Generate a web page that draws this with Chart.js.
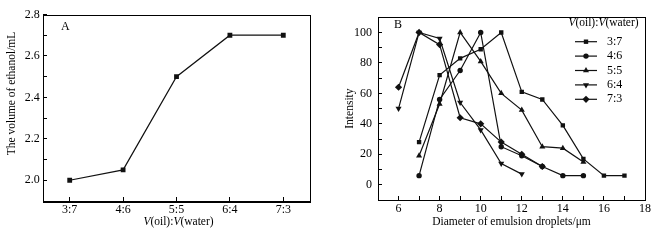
<!DOCTYPE html>
<html>
<head>
<meta charset="utf-8">
<script src="https://cdn.jsdelivr.net/npm/chart.js@4.4.1/dist/chart.umd.min.js"></script>
<style>
  html, body { margin: 0; padding: 0; background: #fff; }
  #wrap { position: relative; width: 658px; height: 240px; }
  .panel { position: absolute; top: 0; height: 240px; }
  #panel-a { left: 0; width: 330px; }
  #panel-b { left: 330px; width: 328px; }
</style>
</head>
<body>
<div id="wrap">
  <div class="panel" id="panel-a"><canvas id="chart-a" width="330" height="240"></canvas></div>
  <div class="panel" id="panel-b"><canvas id="chart-b" width="328" height="240"></canvas></div>
</div>
<script>
// panel A
const ratios = ['3:7', '4:6', '5:5', '6:4', '7:3'];
const ethanolVolume = [2.0, 2.05, 2.5, 2.7, 2.7];

// panel B: droplet diameter (um) vs intensity, one pair per oil:water ratio
const seriesLabels = ['3:7', '4:6', '5:5', '6:4', '7:3'];
const d37 = [7, 8, 9, 10, 11, 12, 13, 14, 15, 16, 17];
const i37 = [28, 72, 83, 89, 100, 61, 56, 39, 17, 6, 6];
const d46 = [7, 8, 9, 10, 11, 12, 13, 14, 15];
const i46 = [6, 56, 75, 100, 25, 19, 12, 6, 6];
const d55 = [7, 8, 9, 10, 11, 12, 13, 14, 15];
const i55 = [19, 53, 100, 81, 60, 49, 25, 24, 15];
const d64 = [6, 7, 8, 9, 10, 11, 12];
const i64 = [50, 100, 96, 54, 36, 14, 7];
const d73 = [6, 7, 8, 9, 10, 11, 12, 13];
const i73 = [64, 100, 92, 44, 40, 28, 20, 12];

const FONT = '"Liberation Serif", "Times New Roman", serif';
Chart.defaults.font.family = FONT;
Chart.defaults.color = '#000';
Chart.defaults.animation = false;

const INK = '#111';

// draws "V(oil):V(water)" with italic V's
const drawRatioTitle = (ctx, cx, cy, size) => {
  const parts = [
    { t: 'V', it: true }, { t: '(oil):' }, { t: 'V', it: true }, { t: '(water)' },
  ];
  const fontOf = (p) => `${p.it ? 'italic ' : ''}${size}px ${FONT}`;
  let total = 0;
  parts.forEach((p) => { ctx.font = fontOf(p); p.w = ctx.measureText(p.t).width; total += p.w; });
  let x = cx - total / 2;
  ctx.save();
  ctx.fillStyle = '#000';
  ctx.textBaseline = 'middle';
  ctx.textAlign = 'left';
  parts.forEach((p) => { ctx.font = fontOf(p); ctx.fillText(p.t, x, cy); x += p.w; });
  ctx.restore();
};

const framePlugin = {
  id: 'frame',
  afterDraw(chart, args, opts) {
    const { ctx, chartArea: a } = chart;
    ctx.save();
    ctx.strokeStyle = '#000';
    ctx.lineWidth = 1;
    ctx.strokeRect(Math.round(a.left) + 0.5, Math.round(a.top) + 0.5,
      Math.round(a.right - a.left), Math.round(a.bottom - a.top));
    ctx.font = `12px ${FONT}`;
    ctx.fillStyle = '#000';
    ctx.textBaseline = 'middle';
    ctx.fillText(opts.tag, opts.tagX, opts.tagY);
    ctx.restore();
  },
};

const fixedSize = (w, h) => (scale) => {
  if (w != null) scale.width = w;
  if (h != null) scale.height = h;
};

const axisGrid = { drawOnChartArea: false, drawTicks: true, tickLength: -4, color: '#000', tickColor: '#000' };
const axisBorder = { display: true, color: '#000', width: 1 };

// ---- A ----
new Chart(document.getElementById('chart-a'), {
  type: 'line',
  data: {
    labels: ratios,
    datasets: [{
      data: ethanolVolume,
      borderColor: INK,
      borderWidth: 1.2,
      backgroundColor: INK,
      pointStyle: 'rect',
      pointRadius: 3.4,
      pointBorderWidth: 0,
      tension: 0,
    }],
  },
  options: {
    responsive: false,
    layout: { padding: { top: 9.5, right: 20, left: 0, bottom: 0 } },
    plugins: {
      legend: { display: false },
      tooltip: { enabled: false },
      frame: { tag: 'A', tagX: 61, tagY: 27 },
    },
    scales: {
      x: {
        type: 'category',
        offset: true,
        grid: axisGrid,
        border: axisBorder,
        ticks: { font: { size: 12 }, padding: 5.5, maxRotation: 0, autoSkip: false },
        afterFit: fixedSize(null, 39),
      },
      y: {
        min: 1.9,
        max: 2.8,
        grid: axisGrid,
        border: axisBorder,
        ticks: {
          stepSize: 0.1,
          autoSkip: false,
          padding: 7.3,
          font: { size: 12 },
          callback: (v) => {
            const k = Math.round(v * 10);
            return k % 2 === 0 && k >= 20 ? (k / 10).toFixed(1) : '';
          },
        },
        afterFit: fixedSize(43, null),
      },
    },
  },
  plugins: [framePlugin, {
    id: 'titlesA',
    afterDraw(chart) {
      const { ctx, chartArea: a } = chart;
      drawRatioTitle(ctx, (a.left + a.right) / 2 + 2, 222, 11.5);
      // y title sits a little above the plot centre in the original
      ctx.save();
      ctx.translate(11.7, 93.5);
      ctx.rotate(-Math.PI / 2);
      ctx.font = `11.5px ${FONT}`;
      ctx.fillStyle = '#000';
      ctx.textAlign = 'center';
      ctx.textBaseline = 'middle';
      ctx.fillText('The volume of ethanol/mL', 0, 0);
      ctx.restore();
    },
  }],
});

// ---- B ----
const pairs = (xs, ys) => xs.map((x, i) => ({ x, y: ys[i] }));
const markers = [
  { style: 'rect', r: 3.1, rot: 0 },
  { style: 'circle', r: 2.7, rot: 0 },
  { style: 'triangle', r: 3.5, rot: 0 },
  { style: 'triangle', r: 3.5, rot: 180 },
  { style: 'rectRot', r: 3.6, rot: 0 },
];
const seriesData = [pairs(d37, i37), pairs(d46, i46), pairs(d55, i55), pairs(d64, i64), pairs(d73, i73)];

const legendPlugin = {
  id: 'lineLegend',
  afterDraw(chart) {
    const { ctx } = chart;
    drawRatioTitle(ctx, 273.5, 23, 11.5);
    chart.data.datasets.forEach((ds, i) => {
      const y = 41.7 + i * 14.4;
      const m = markers[i];
      ctx.save();
      ctx.strokeStyle = INK;
      ctx.lineWidth = 1.2;
      ctx.beginPath();
      ctx.moveTo(245, y);
      ctx.lineTo(267, y);
      ctx.stroke();
      ctx.fillStyle = INK;
      Chart.helpers.drawPoint(ctx, { pointStyle: m.style, radius: m.r, rotation: m.rot, borderWidth: 0 }, 256, y);
      ctx.font = `12px ${FONT}`;
      ctx.fillStyle = '#000';
      ctx.textBaseline = 'middle';
      ctx.fillText(ds.label, 277, y);
      ctx.restore();
    });
  },
};

new Chart(document.getElementById('chart-b'), {
  type: 'line',
  data: {
    datasets: seriesData.map((data, i) => ({
      label: seriesLabels[i],
      data,
      borderColor: INK,
      borderWidth: 1.2,
      backgroundColor: INK,
      pointStyle: markers[i].style,
      pointRadius: markers[i].r,
      pointRotation: markers[i].rot,
      pointBorderWidth: 0,
      tension: 0,
    })),
  },
  options: {
    responsive: false,
    layout: { padding: { top: 9.5, right: 13, left: 0, bottom: 0 } },
    plugins: {
      legend: { display: false },
      tooltip: { enabled: false },
      frame: { tag: 'B', tagX: 64, tagY: 25 },
    },
    scales: {
      x: {
        type: 'linear',
        min: 5,
        max: 18,
        grid: axisGrid,
        border: axisBorder,
        ticks: {
          stepSize: 1,
          autoSkip: false,
          maxRotation: 0,
          padding: 5.5,
          font: { size: 12 },
          callback: (v) => (v % 2 === 0 && v >= 6 ? String(v) : ''),
        },
        title: { display: true, text: 'Diameter of emulsion droplets/\u03bcm', font: { size: 11.5 }, padding: { top: 0, bottom: 11 } },
        afterFit: fixedSize(null, 40),
      },
      y: {
        min: -10,
        max: 110,
        grid: axisGrid,
        border: axisBorder,
        ticks: {
          stepSize: 10,
          autoSkip: false,
          padding: 10,
          font: { size: 12 },
          callback: (v) => (v % 20 === 0 && v >= 0 && v <= 100 ? String(v) : ''),
        },
        title: { display: true, text: 'Intensity', font: { size: 11.5 }, padding: { top: 13, bottom: 0 } },
        afterFit: fixedSize(48, null),
      },
    },
  },
  plugins: [framePlugin, legendPlugin],
});
</script>
</body>
</html>
